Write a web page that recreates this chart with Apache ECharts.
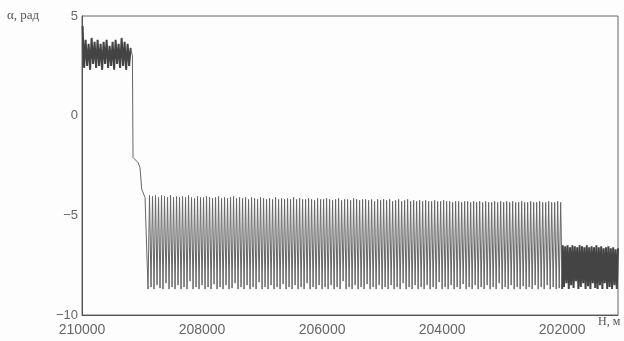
<!DOCTYPE html>
<html>
<head>
<meta charset="utf-8">
<script src="https://cdn.jsdelivr.net/npm/echarts@6/dist/echarts.min.js"></script>
<style>
  html, body { margin: 0; padding: 0; background: #fdfdfd; }
  #chart { width: 624px; height: 341px; }
</style>
</head>
<body>
<div id="chart"></div>
<script>
// tick labels
let xTicks = [210000, 208000, 206000, 204000, 202000]
let yTicks = [5, 0, -5, -10]

// section 1: upper band, H 210000..209190
let h1 = [209990, 209965, 209940, 209915, 209890, 209865, 209840, 209815, 209790, 209765,
  209740, 209715, 209690, 209665, 209640, 209615, 209590, 209565, 209540, 209515,
  209490, 209465, 209440, 209415, 209390, 209365, 209340, 209315, 209290, 209265,
  209240, 209215, 209190]
let a1 = [4.5, 2.4, 3.8, 2.5, 3.6, 2.3, 3.9, 2.6, 3.7, 2.4,
  3.8, 2.5, 3.6, 2.3, 3.7, 2.6, 3.8, 2.4, 3.5, 2.5,
  3.7, 2.3, 3.8, 2.6, 3.6, 2.4, 3.9, 2.5, 3.7, 2.3,
  3.6, 2.5, 3.4]

// drop between the bands
let hDrop = [209160, 209150, 209067, 209033, 209005, 208950]
let aDrop = [3.0, -2.1, -2.35, -2.6, -3.7, -4.1]

// section 2: wide band, H 208900..202000 (step 25 m)
let h2 = [
  208900, 208875, 208850, 208825, 208800, 208775, 208750, 208725, 208700, 208675, 208650, 208625, 208600, 208575, 208550, 208525, 208500, 208475, 208450, 208425,
  208400, 208375, 208350, 208325, 208300, 208275, 208250, 208225, 208200, 208175, 208150, 208125, 208100, 208075, 208050, 208025, 208000, 207975, 207950, 207925,
  207900, 207875, 207850, 207825, 207800, 207775, 207750, 207725, 207700, 207675, 207650, 207625, 207600, 207575, 207550, 207525, 207500, 207475, 207450, 207425,
  207400, 207375, 207350, 207325, 207300, 207275, 207250, 207225, 207200, 207175, 207150, 207125, 207100, 207075, 207050, 207025, 207000, 206975, 206950, 206925,
  206900, 206875, 206850, 206825, 206800, 206775, 206750, 206725, 206700, 206675, 206650, 206625, 206600, 206575, 206550, 206525, 206500, 206475, 206450, 206425,
  206400, 206375, 206350, 206325, 206300, 206275, 206250, 206225, 206200, 206175, 206150, 206125, 206100, 206075, 206050, 206025, 206000, 205975, 205950, 205925,
  205900, 205875, 205850, 205825, 205800, 205775, 205750, 205725, 205700, 205675, 205650, 205625, 205600, 205575, 205550, 205525, 205500, 205475, 205450, 205425,
  205400, 205375, 205350, 205325, 205300, 205275, 205250, 205225, 205200, 205175, 205150, 205125, 205100, 205075, 205050, 205025, 205000, 204975, 204950, 204925,
  204900, 204875, 204850, 204825, 204800, 204775, 204750, 204725, 204700, 204675, 204650, 204625, 204600, 204575, 204550, 204525, 204500, 204475, 204450, 204425,
  204400, 204375, 204350, 204325, 204300, 204275, 204250, 204225, 204200, 204175, 204150, 204125, 204100, 204075, 204050, 204025, 204000, 203975, 203950, 203925,
  203900, 203875, 203850, 203825, 203800, 203775, 203750, 203725, 203700, 203675, 203650, 203625, 203600, 203575, 203550, 203525, 203500, 203475, 203450, 203425,
  203400, 203375, 203350, 203325, 203300, 203275, 203250, 203225, 203200, 203175, 203150, 203125, 203100, 203075, 203050, 203025, 203000, 202975, 202950, 202925,
  202900, 202875, 202850, 202825, 202800, 202775, 202750, 202725, 202700, 202675, 202650, 202625, 202600, 202575, 202550, 202525, 202500, 202475, 202450, 202425,
  202400, 202375, 202350, 202325, 202300, 202275, 202250, 202225, 202200, 202175, 202150, 202125, 202100, 202075, 202050, 202025, 202000]
let a2 = [
  -8.7, -4.0, -8.6, -4.05, -8.7, -4.0, -8.5, -4.1, -8.65, -4.0, -8.7, -4.05, -8.4, -4.1, -8.7, -4.0, -8.6, -4.1, -8.7, -4.05,
  -8.5, -4.1, -8.7, -4.05, -8.6, -4.1, -8.7, -4.0, -8.3, -4.1, -8.7, -4.15, -8.6, -4.05, -8.7, -4.1, -8.5, -4.1, -8.7, -4.05,
  -8.6, -4.1, -8.7, -4.15, -8.45, -4.1, -8.7, -4.05, -8.6, -4.15, -8.7, -4.1, -8.5, -4.15, -8.7, -4.1, -8.65, -4.05, -8.4, -4.15,
  -8.7, -4.1, -8.6, -4.15, -8.7, -4.1, -8.5, -4.2, -8.7, -4.1, -8.6, -4.15, -8.7, -4.2, -8.35, -4.1, -8.7, -4.15, -8.6, -4.2,
  -8.7, -4.15, -8.5, -4.2, -8.7, -4.1, -8.6, -4.2, -8.7, -4.15, -8.45, -4.2, -8.7, -4.15, -8.6, -4.2, -8.7, -4.1, -8.5, -4.2,
  -8.7, -4.15, -8.6, -4.2, -8.7, -4.2, -8.4, -4.15, -8.7, -4.2, -8.6, -4.25, -8.7, -4.15, -8.5, -4.2, -8.7, -4.2, -8.6, -4.15,
  -8.7, -4.2, -8.5, -4.25, -8.7, -4.2, -8.6, -4.15, -8.7, -4.25, -8.3, -4.2, -8.7, -4.2, -8.6, -4.25, -8.7, -4.15, -8.5, -4.2,
  -8.7, -4.25, -8.6, -4.2, -8.7, -4.2, -8.45, -4.25, -8.7, -4.2, -8.6, -4.3, -8.7, -4.2, -8.5, -4.25, -8.7, -4.2, -8.6, -4.25,
  -8.7, -4.2, -8.5, -4.3, -8.7, -4.25, -8.6, -4.2, -8.7, -4.3, -8.4, -4.25, -8.7, -4.2, -8.6, -4.3, -8.7, -4.25, -8.5, -4.3,
  -8.7, -4.25, -8.6, -4.3, -8.7, -4.25, -8.5, -4.3, -8.7, -4.3, -8.6, -4.25, -8.7, -4.3, -8.35, -4.3, -8.7, -4.25, -8.6, -4.3,
  -8.7, -4.3, -8.5, -4.35, -8.7, -4.3, -8.6, -4.3, -8.7, -4.35, -8.45, -4.3, -8.7, -4.3, -8.6, -4.35, -8.7, -4.3, -8.5, -4.35,
  -8.7, -4.3, -8.6, -4.35, -8.7, -4.3, -8.5, -4.35, -8.7, -4.35, -8.6, -4.3, -8.7, -4.35, -8.4, -4.3, -8.7, -4.35, -8.6, -4.3,
  -8.7, -4.35, -8.5, -4.3, -8.7, -4.35, -8.6, -4.35, -8.7, -4.3, -8.55, -4.35, -8.7, -4.35, -8.6, -4.3, -8.7, -4.35, -8.5, -4.35,
  -8.7, -4.3, -8.6, -4.35, -8.7, -4.35, -8.5, -4.3, -8.7, -4.35, -8.6, -4.35, -8.7, -4.3, -8.65, -4.35, -8.7]

// section 3: dark narrow band, H 201990..201070
let h3 = [201990, 201970, 201950, 201930, 201910, 201890, 201870, 201850, 201830, 201810,
  201790, 201770, 201750, 201730, 201710, 201690, 201670, 201650, 201630, 201610,
  201590, 201570, 201550, 201530, 201510, 201490, 201470, 201450, 201430, 201410,
  201390, 201370, 201350, 201330, 201310, 201290, 201270, 201250, 201230, 201210,
  201190, 201170, 201150, 201130, 201110, 201090, 201070]
let a3 = [-6.5, -8.6, -6.55, -8.4, -6.5, -8.7, -6.6, -8.5, -6.5, -8.65,
  -6.55, -8.3, -6.6, -8.7, -6.5, -8.6, -6.55, -8.4, -6.6, -8.7,
  -6.5, -8.55, -6.6, -8.7, -6.55, -8.4, -6.6, -8.65, -6.5, -8.7,
  -6.6, -8.5, -6.55, -8.7, -6.65, -8.4, -6.6, -8.7, -6.55, -8.6,
  -6.65, -8.7, -6.6, -8.5, -6.7, -8.7, -6.65]

// склеиваем [H, alpha]
function pairs(hList, aList) {
  let out = []
  for (let i = 0; i < hList.length; i++) {
    out.push([hList[i], aList[i]])
  }
  return out
}
let upperPart = pairs(h1, a1)
let widePart = pairs(h1.slice(-1), a1.slice(-1)).concat(pairs(hDrop, aDrop), pairs(h2, a2))
let narrowPart = pairs(h2.slice(-1), a2.slice(-1)).concat(pairs(h3, a3))

function lineSeries(data, color, width) {
  return {
    type: 'line',
    data: data,
    showSymbol: false,
    lineStyle: { color: color, width: width }
  }
}

const chart = echarts.init(document.getElementById('chart'), null, { renderer: 'canvas' })
chart.setOption({
  animation: false,
  backgroundColor: '#fdfdfd',
  grid: {
    left: 82, right: 6, top: 16, bottom: 26,
    show: true, borderColor: '#666', borderWidth: 1
  },
  xAxis: {
    type: 'value',
    inverse: true,
    min: 201070,
    max: 210000,
    axisLine: { show: true, onZero: false, lineStyle: { color: '#555', width: 1 } },
    axisTick: { show: false },
    splitLine: { show: false },
    axisLabel: {
      customValues: xTicks,
      margin: 8,
      color: '#666',
      fontSize: 14,
      fontFamily: 'Liberation Sans',
      formatter: v => String(v)
    }
  },
  yAxis: {
    type: 'value',
    min: -10,
    max: 5,
    interval: 5,
    axisLine: { show: true, onZero: false, lineStyle: { color: '#555', width: 1 } },
    axisTick: { show: false },
    splitLine: { show: false },
    axisLabel: {
      customValues: yTicks,
      margin: 4,
      color: '#666',
      fontSize: 13,
      fontFamily: 'Liberation Sans',
      formatter: v => String(v).replace('-', '\u2212')
    }
  },
  graphic: [
    {
      type: 'text', left: 7, top: 9,
      style: { text: 'α, рад', font: '13px "Liberation Serif"', fill: '#555' }
    },
    {
      type: 'text', left: 598, top: 316,
      style: { text: 'H, м', font: '12px "Liberation Serif"', fill: '#555' }
    }
  ],
  series: [
    lineSeries(upperPart, '#444', 2),
    lineSeries(widePart, '#666', 1),
    lineSeries(narrowPart, '#444', 2)
  ]
})
</script>
</body>
</html>
